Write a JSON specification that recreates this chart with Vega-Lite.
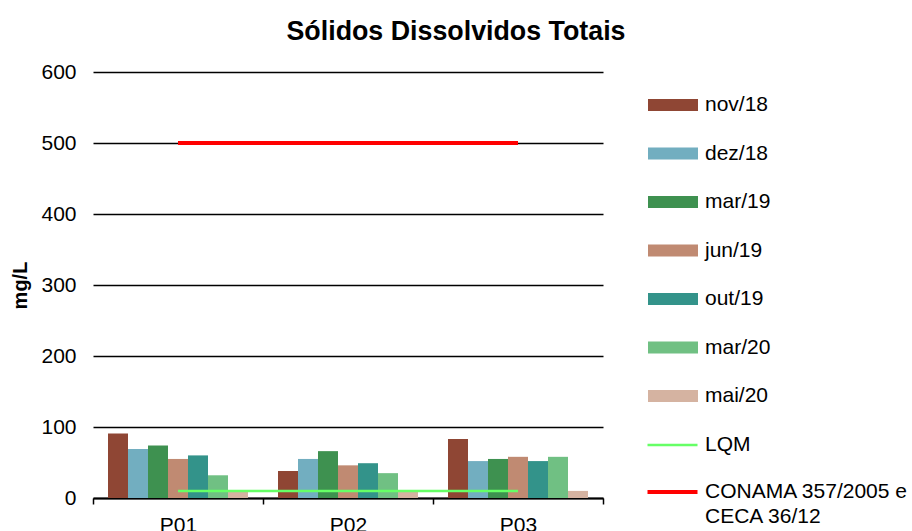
{
  "$schema": "https://vega.github.io/schema/vega-lite/v6.json",
  "autosize": {"type": "none"},
  "padding": {"left": 93, "top": 72, "right": 309, "bottom": 33},
  "width": 510,
  "height": 426,
  "background": "white",
  "config": {
    "font": "Liberation Sans",
    "view": {"stroke": null},
    "legend": {"padding": 0}
  },
  "title": {
    "text": "Sólidos Dissolvidos Totais",
    "fontSize": 26.8,
    "fontWeight": "bold",
    "color": "black",
    "anchor": "middle",
    "frame": "group",
    "dx": 108,
    "dy": 37,
    "baseline": "alphabetic",
    "offset": 31
  },
  "datasets": {
    "barras": [
      {"ponto": "P01", "mes": "nov/18", "valor": 91},
      {"ponto": "P01", "mes": "dez/18", "valor": 69},
      {"ponto": "P01", "mes": "mar/19", "valor": 74},
      {"ponto": "P01", "mes": "jun/19", "valor": 55},
      {"ponto": "P01", "mes": "out/19", "valor": 60},
      {"ponto": "P01", "mes": "mar/20", "valor": 32},
      {"ponto": "P01", "mes": "mai/20", "valor": 10},
      {"ponto": "P02", "mes": "nov/18", "valor": 38},
      {"ponto": "P02", "mes": "dez/18", "valor": 55},
      {"ponto": "P02", "mes": "mar/19", "valor": 66},
      {"ponto": "P02", "mes": "jun/19", "valor": 46},
      {"ponto": "P02", "mes": "out/19", "valor": 49},
      {"ponto": "P02", "mes": "mar/20", "valor": 35},
      {"ponto": "P02", "mes": "mai/20", "valor": 10},
      {"ponto": "P03", "mes": "nov/18", "valor": 83},
      {"ponto": "P03", "mes": "dez/18", "valor": 52},
      {"ponto": "P03", "mes": "mar/19", "valor": 55},
      {"ponto": "P03", "mes": "jun/19", "valor": 58},
      {"ponto": "P03", "mes": "out/19", "valor": 52},
      {"ponto": "P03", "mes": "mar/20", "valor": 58},
      {"ponto": "P03", "mes": "mai/20", "valor": 10}
    ],
    "linhas": [
      {"ponto": "P01", "serie": "LQM", "valor": 10},
      {"ponto": "P02", "serie": "LQM", "valor": 10},
      {"ponto": "P03", "serie": "LQM", "valor": 10},
      {"ponto": "P01", "serie": "CONAMA 357/2005 e CECA 36/12", "valor": 500},
      {"ponto": "P02", "serie": "CONAMA 357/2005 e CECA 36/12", "valor": 500},
      {"ponto": "P03", "serie": "CONAMA 357/2005 e CECA 36/12", "valor": 500}
    ]
  },
  "encoding": {
    "x": {
      "field": "ponto",
      "type": "nominal",
      "title": null,
      "scale": {"paddingInner": 0, "paddingOuter": 0},
      "axis": {
        "labelAngle": 0,
        "labelFontSize": 21,
        "labelColor": "black",
        "labelPadding": 10,
        "tickBand": "extent",
        "tickColor": "black",
        "tickSize": 6,
        "tickWidth": 1.5,
        "domainColor": "black",
        "domainWidth": 2,
        "grid": false
      }
    },
    "y": {
      "field": "valor",
      "type": "quantitative",
      "title": "mg/L",
      "scale": {"domain": [0, 600], "nice": false},
      "axis": {
        "values": [0, 100, 200, 300, 400, 500, 600],
        "ticks": false,
        "domain": false,
        "grid": true,
        "gridColor": "black",
        "gridWidth": 1.5,
        "gridOpacity": 1,
        "labelFontSize": 21,
        "labelColor": "black",
        "labelPadding": 17,
        "titleFontSize": 20,
        "titleFontWeight": "bold",
        "titleColor": "black",
        "titlePadding": 10
      }
    }
  },
  "layer": [
    {
      "data": {"name": "barras"},
      "mark": {"type": "bar", "strokeWidth": 0},
      "encoding": {
        "xOffset": {
          "field": "mes",
          "type": "nominal",
          "sort": ["nov/18", "dez/18", "mar/19", "jun/19", "out/19", "mar/20", "mai/20"],
          "scale": {"paddingInner": 0, "paddingOuter": 0.75}
        },
        "fill": {
          "field": "mes",
          "type": "nominal",
          "sort": ["nov/18", "dez/18", "mar/19", "jun/19", "out/19", "mar/20", "mai/20"],
          "scale": {
            "domain": ["nov/18", "dez/18", "mar/19", "jun/19", "out/19", "mar/20", "mai/20"],
            "range": ["#8F4634", "#72AEC0", "#3E9150", "#C08A72", "#33938A", "#70C083", "#D5B3A1"]
          },
          "legend": {
            "title": null,
            "orient": "none",
            "legendX": 555,
            "legendY": 8,
            "symbolType": "M-1,-0.24H1V0.24H-1Z",
            "symbolSize": 2500,
            "symbolStrokeWidth": 0,
            "symbolOpacity": 1,
            "labelFontSize": 21,
            "labelColor": "black",
            "labelOffset": 7,
            "rowPadding": 13.5,
            "labelLimit": 300
          }
        }
      }
    },
    {
      "data": {"name": "linhas"},
      "transform": [{"filter": "datum.serie == 'LQM'"}],
      "mark": {"type": "line", "strokeWidth": 2.5},
      "encoding": {
        "stroke": {
          "field": "serie",
          "type": "nominal",
          "scale": {
            "domain": ["LQM", "CONAMA 357/2005 e CECA 36/12"],
            "range": ["#66FF66", "#FF0000"]
          },
          "legend": {
            "title": null,
            "orient": "none",
            "legendX": 569,
            "legendY": 362.5,
            "symbolType": "stroke",
            "symbolSize": 2500,
            "symbolStrokeWidth": 3,
            "labelFontSize": 21,
            "labelColor": "black",
            "labelOffset": 22,
            "rowPadding": 24.9,
            "labelLimit": 300,
            "labelExpr": "datum.label == 'CONAMA 357/2005 e CECA 36/12' ? ['CONAMA 357/2005 e', 'CECA 36/12'] : datum.label",
            "encode": {
              "symbols": {"update": {"strokeWidth": {"signal": "datum.value == 'LQM' ? 2.5 : 4"}}},
              "labels": {"update": {"lineHeight": {"value": 25}}}
            }
          }
        }
      }
    },
    {
      "data": {"name": "linhas"},
      "transform": [{"filter": "datum.serie != 'LQM'"}],
      "mark": {"type": "line", "strokeWidth": 4},
      "encoding": {
        "stroke": {"field": "serie", "type": "nominal"}
      }
    }
  ]
}
